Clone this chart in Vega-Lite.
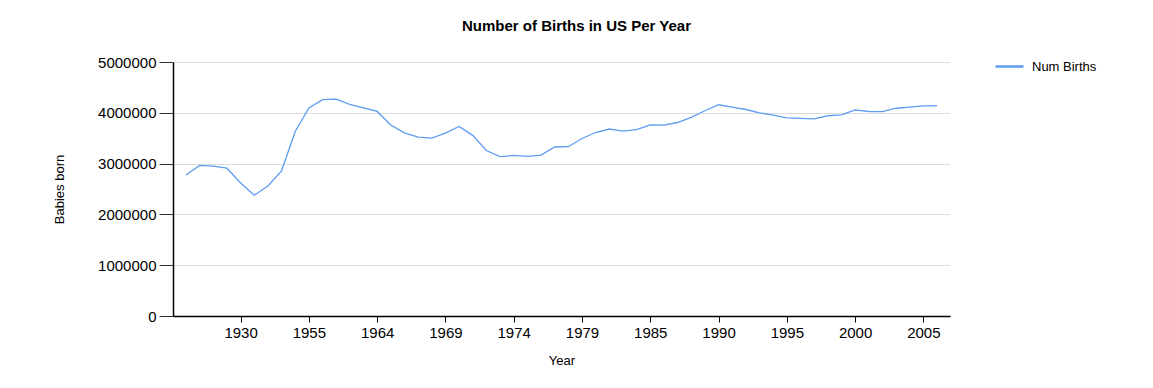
{
  "$schema": "https://vega.github.io/schema/vega-lite/v6.json",
  "autosize": {"type": "none"},
  "padding": {"left": 173, "top": 62, "right": 203, "bottom": 72},
  "width": 777,
  "height": 254,
  "background": "white",
  "title": {
    "text": "Number of Births in US Per Year",
    "font": "Liberation Sans",
    "fontSize": 15,
    "fontWeight": "bold",
    "color": "#000000",
    "anchor": "middle",
    "frame": "group",
    "dx": 15,
    "offset": 17
  },
  "data": {
    "values": [
      {"Year": "1910", "Births": 2777000},
      {"Year": "1915", "Births": 2965000},
      {"Year": "1920", "Births": 2950000},
      {"Year": "1925", "Births": 2909000},
      {"Year": "1930", "Births": 2618000},
      {"Year": "1935", "Births": 2377000},
      {"Year": "1940", "Births": 2559000},
      {"Year": "1945", "Births": 2858000},
      {"Year": "1950", "Births": 3632000},
      {"Year": "1955", "Births": 4097000},
      {"Year": "1960", "Births": 4258000},
      {"Year": "1961", "Births": 4268000},
      {"Year": "1962", "Births": 4167000},
      {"Year": "1963", "Births": 4098000},
      {"Year": "1964", "Births": 4027000},
      {"Year": "1965", "Births": 3760000},
      {"Year": "1966", "Births": 3606000},
      {"Year": "1967", "Births": 3521000},
      {"Year": "1968", "Births": 3502000},
      {"Year": "1969", "Births": 3600000},
      {"Year": "1970", "Births": 3731000},
      {"Year": "1971", "Births": 3556000},
      {"Year": "1972", "Births": 3258000},
      {"Year": "1973", "Births": 3137000},
      {"Year": "1974", "Births": 3160000},
      {"Year": "1975", "Births": 3144000},
      {"Year": "1976", "Births": 3168000},
      {"Year": "1977", "Births": 3327000},
      {"Year": "1978", "Births": 3333000},
      {"Year": "1979", "Births": 3494000},
      {"Year": "1980", "Births": 3612000},
      {"Year": "1982", "Births": 3681000},
      {"Year": "1983", "Births": 3639000},
      {"Year": "1984", "Births": 3669000},
      {"Year": "1985", "Births": 3761000},
      {"Year": "1986", "Births": 3757000},
      {"Year": "1987", "Births": 3809000},
      {"Year": "1988", "Births": 3910000},
      {"Year": "1989", "Births": 4041000},
      {"Year": "1990", "Births": 4158000},
      {"Year": "1991", "Births": 4111000},
      {"Year": "1992", "Births": 4065000},
      {"Year": "1993", "Births": 4000000},
      {"Year": "1994", "Births": 3953000},
      {"Year": "1995", "Births": 3900000},
      {"Year": "1996", "Births": 3891000},
      {"Year": "1997", "Births": 3881000},
      {"Year": "1998", "Births": 3942000},
      {"Year": "1999", "Births": 3959000},
      {"Year": "2000", "Births": 4059000},
      {"Year": "2001", "Births": 4026000},
      {"Year": "2002", "Births": 4022000},
      {"Year": "2003", "Births": 4090000},
      {"Year": "2004", "Births": 4112000},
      {"Year": "2005", "Births": 4138000},
      {"Year": "2006", "Births": 4140000}
    ]
  },
  "mark": {"type": "line", "strokeWidth": 1.3, "interpolate": "linear"},
  "encoding": {
    "x": {
      "field": "Year",
      "type": "ordinal",
      "sort": null,
      "scale": {"type": "point", "padding": 0.95},
      "axis": {
        "title": "Year",
        "values": ["1930", "1955", "1964", "1969", "1974", "1979", "1985", "1990", "1995", "2000", "2005"],
        "labelAngle": 0,
        "labelFont": "Liberation Sans",
        "labelFontSize": 15,
        "labelColor": "#000000",
        "labelPadding": 3,
        "tickSize": 6,
        "tickColor": "#000000",
        "domainColor": "#000000",
        "domainWidth": 1.5,
        "grid": false,
        "titleFont": "Liberation Sans",
        "titleFontSize": 13,
        "titleFontWeight": "normal",
        "titleColor": "#000000",
        "titlePadding": 14
      }
    },
    "y": {
      "field": "Births",
      "type": "quantitative",
      "scale": {"domain": [0, 5000000], "nice": false},
      "axis": {
        "title": "Babies born",
        "values": [0, 1000000, 2000000, 3000000, 4000000, 5000000],
        "format": "d",
        "labelFont": "Liberation Sans",
        "labelFontSize": 15,
        "labelColor": "#000000",
        "labelPadding": 3,
        "tickSize": 14,
        "tickColor": "#333333",
        "domainColor": "#000000",
        "domainWidth": 1.5,
        "grid": true,
        "gridColor": "#dcdcdc",
        "gridWidth": 1,
        "titleFont": "Liberation Sans",
        "titleFontSize": 13,
        "titleFontWeight": "normal",
        "titleColor": "#000000",
        "titlePadding": 31
      }
    },
    "color": {
      "datum": "Num Births",
      "type": "nominal",
      "scale": {"range": ["#5e9cf2"]},
      "legend": {
        "title": null,
        "orient": "none",
        "legendX": 821,
        "legendY": -11,
        "padding": 0,
        "symbolType": "stroke",
        "symbolSize": 784,
        "symbolStrokeWidth": 2.5,
        "labelFont": "Liberation Sans",
        "labelFontSize": 13,
        "labelColor": "#000000",
        "labelOffset": 7
      }
    }
  },
  "config": {
    "view": {"stroke": null}
  }
}
